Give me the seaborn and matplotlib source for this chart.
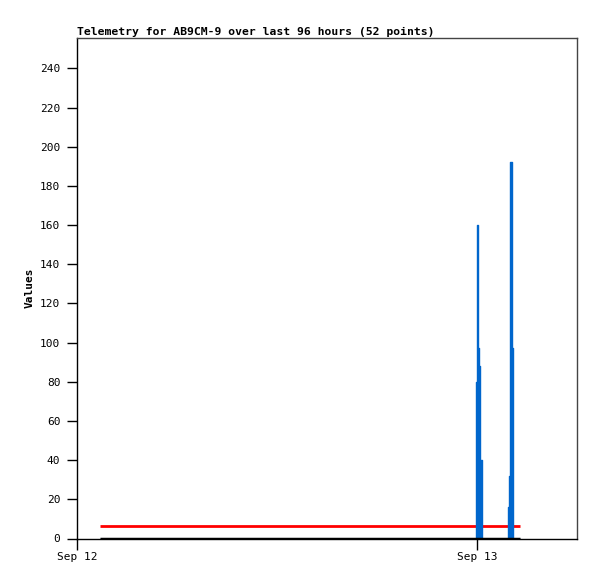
"""
Telemetry chart for AB9CM-9, last 96 hours
"""

import numpy as np
import matplotlib
matplotlib.use('Agg')
import matplotlib.pyplot as plt
import seaborn as sns
import pandas as pd

sns.set_style('white')
plt.rcParams['font.family'] = ['DejaVu Sans Mono']

# Hours after Sep 12 00:00
hours = [1.40, 2.00, 2.60, 3.20, 3.80, 4.40, 5.00, 5.60, 6.20, 6.80,
         7.40, 8.00, 8.60, 9.20, 9.80, 10.40, 11.00, 11.60, 12.20, 12.80,
         13.40, 14.00, 14.60, 15.20, 15.80, 16.40, 17.00, 17.60, 18.20, 18.80,
         19.40, 20.00, 20.60, 21.20, 21.80, 22.40, 22.90, 23.40,
         23.94, 24.00, 24.06, 24.12, 24.18, 24.30,
         24.80, 25.30,
         25.86, 25.92, 25.98, 26.10, 26.16,
         26.55]
values = [0, 0, 0, 0, 0, 0, 0, 0, 0, 0,
          0, 0, 0, 0, 0, 0, 0, 0, 0, 0,
          0, 0, 0, 0, 0, 0, 0, 0, 0, 0,
          0, 0, 0, 0, 0, 0, 0, 0,
          80, 160, 97, 88, 40, 0,
          0, 0,
          16, 32, 192, 97, 0,
          0]
ref_level = 6.2
baseline = 0.0

tick_hours = [0, 24]
tick_labels = ['Sep 12', 'Sep 13']
y_ticks = [0, 20, 40, 60, 80, 100, 120, 140, 160, 180, 200, 220, 240]

df = pd.DataFrame({'hours': hours, 'value': values})

fig = plt.figure(figsize=(5.97, 5.79), dpi=100)
ax = fig.add_axes([77 / 597, 1 - 538.5 / 579, 500 / 597, 500.5 / 579])

# blue telemetry as steps
ax.fill_between(df['hours'], df['value'], step='post', color='#0066cc', lw=0, zorder=2)
sns.lineplot(data=df, x='hours', y='value', drawstyle='steps-post',
             color='#0066cc', lw=1.0, ax=ax, zorder=2)

ax.hlines(ref_level, hours[0], hours[-1], color='#ff0000', lw=2, zorder=1)
ax.hlines(baseline, hours[0], hours[-1], color='black', lw=2.5, zorder=3)

ax.set_xlim(0, 30)
ax.set_ylim(0, 255.5)
ax.set_xticks(tick_hours)
ax.set_xticklabels(tick_labels)
ax.set_yticks(y_ticks)

ax.tick_params(axis='both', direction='out', labelsize=8, colors='black')
ax.tick_params(axis='y', length=7, width=1, pad=5)
ax.tick_params(axis='x', length=8, width=1, pad=2)
ax.yaxis.set_ticks_position('left')
ax.xaxis.set_ticks_position('bottom')

for side in ['left', 'bottom']:
    ax.spines[side].set_color('black')
    ax.spines[side].set_linewidth(1)
for side in ['top', 'right']:
    ax.spines[side].set_color('#444444')
    ax.spines[side].set_linewidth(1)

ax.set_xlabel('')
ax.set_ylabel('Values', fontsize=8, fontweight='bold', color='black', labelpad=4)
ax.set_title('Telemetry for AB9CM-9 over last 96 hours (52 points)',
             loc='left', fontsize=8.2, fontweight='bold', color='black', pad=2)

fig.savefig('out.png', dpi=100)
